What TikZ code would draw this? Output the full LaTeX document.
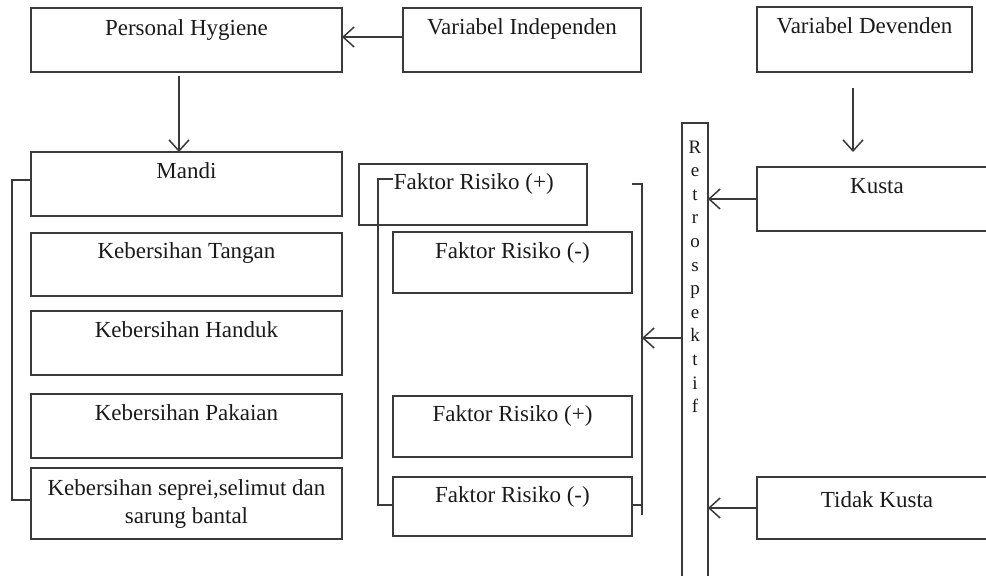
\documentclass[tikz,border=0pt]{standalone}
\usepackage{fontspec}
\setmainfont{Liberation Serif}
\usetikzlibrary{arrows.meta}
\definecolor{ln}{HTML}{3A3A3A}
\definecolor{tx}{HTML}{1A1A1A}
\begin{document}
\begin{tikzpicture}[x=1pt,y=-1pt,
  line width=1.7pt, draw=ln,
  box/.style={draw=ln, line width=1.7pt, rectangle, anchor=north west, inner sep=0pt, outer sep=0pt},
  openbox/.style={draw=none, rectangle, anchor=north west, inner sep=0pt, outer sep=0pt},
  txt/.style={anchor=base, inner sep=0pt, text=tx, font=\fontsize{23}{28}\selectfont, align=center},
  letter/.style={anchor=base, inner sep=0pt, text=tx, font=\fontsize{19}{20}\selectfont},
  arr/.style={draw=ln, -{Straight Barb[length=11pt,width=20pt,line width=1.5pt]}}]
\useasboundingbox (0,0) rectangle (986,576);
% top row
\node[box, minimum width=311pt, minimum height=64pt] (ph) at (31,8) {};
\node[txt] (phT) at ([yshift=-27pt]ph.north) {Personal Hygiene};
\node[box, minimum width=238pt, minimum height=64pt] (vi) at (403,8) {};
\node[txt] (viT) at ([yshift=-26pt]vi.north) {Variabel Independen};
\node[box, minimum width=215pt, minimum height=65pt] (vd) at (757,7) {};
\node[txt] (vdT) at ([yshift=-26pt]vd.north) {Variabel Devenden};
% left column
\node[box, minimum width=311pt, minimum height=64pt] (mandi) at (31,152) {};
\node[txt] (mandiT) at ([yshift=-26pt]mandi.north) {Mandi};
\node[box, minimum width=311pt, minimum height=63pt] (tangan) at (31,233) {};
\node[txt] (tanganT) at ([yshift=-25pt]tangan.north) {Kebersihan Tangan};
\node[box, minimum width=311pt, minimum height=64pt] (handuk) at (31,311) {};
\node[txt] (handukT) at ([yshift=-26pt]handuk.north) {Kebersihan Handuk};
\node[box, minimum width=311pt, minimum height=64pt] (pakaian) at (31,394) {};
\node[txt] (pakaianT) at ([yshift=-26pt]pakaian.north) {Kebersihan Pakaian};
\node[box, minimum width=311pt, minimum height=71pt] (seprei) at (31,468) {};
\node[txt] (sepreiT) at ([yshift=-55pt]seprei.north) {Kebersihan seprei,selimut dan\\sarung bantal};
% middle column
\node[box, minimum width=228pt, minimum height=61pt] (frpa) at (359,164) {};
\node[txt, anchor=base west] (frpaT) at (393,189) {Faktor Risiko (+)};
\node[box, minimum width=239pt, minimum height=61pt] (frma) at (393,232) {};
\node[txt] (frmaT) at ([yshift=-26pt]frma.north) {Faktor Risiko (-)};
\node[box, minimum width=239pt, minimum height=61pt] (frpb) at (393,396) {};
\node[txt] (frpbT) at ([yshift=-25pt]frpb.north) {Faktor Risiko (+)};
\node[box, minimum width=239pt, minimum height=59pt] (frmb) at (393,477) {};
\node[txt] (frmbT) at ([yshift=-25pt]frmb.north) {Faktor Risiko (-)};
% retrospektif
\node[openbox, minimum width=26pt, minimum height=460pt] (retro) at (682,123) {};
\draw (retro.south west) -- (retro.north west) -- (retro.north east) -- (retro.south east);
\foreach \c [count=\i] in {R,e,t,r,o,s,p,e,k,t,i,f}
  \node[letter] (r\i) at (695,{153+23.6*(\i-1)}) {\c};
% right column
\node[openbox, minimum width=240pt, minimum height=64pt] (kusta) at (757,167) {};
\draw (kusta.north east) -- (kusta.north west) -- (kusta.south west) -- (kusta.south east);
\node[txt] (kustaT) at (877,193) {Kusta};
\node[openbox, minimum width=240pt, minimum height=62pt] (tidak) at (757,477) {};
\draw (tidak.north east) -- (tidak.north west) -- (tidak.south west) -- (tidak.south east);
\node[txt] (tidakT) at (877,507) {Tidak Kusta};
% connectors
\draw[arr] ([yshift=-29pt]vi.north west) -- ([yshift=-29pt]ph.north east);
\draw[arr] ([xshift=-7.5pt,yshift=-4pt]ph.south) -- ([xshift=-7.5pt]mandi.north);
\coordinate (vdk) at ([xshift=-11.5pt,yshift=-16pt]vd.south);
\draw[arr, shorten >=15pt] (vdk) -- (vdk |- kusta.north);
\draw[arr] (kusta.west) -- (retro.east |- kusta.west);
\draw[arr] (tidak.west) -- (retro.east |- tidak.west);
% left bracket
\draw ([yshift=4pt]mandi.west) -- ++(-19,0) |- ([yshift=3.5pt]seprei.west);
% middle brackets
\coordinate (lbt) at (378,179);
\draw (frpaT.west |- lbt) -- (lbt) |- ([yshift=1.5pt]frmb.west);
\coordinate (rbt) at (642,184);
\coordinate (rbb) at (642,515);
\draw (frma.east |- rbt) -- (rbt) -- (rbb);
\draw ([yshift=1.5pt]frmb.east) -- ([yshift=1.5pt]frmb.east -| rbt);
\coordinate (ra) at (682,338);
\draw[arr] (ra) -- (rbt |- ra);
\end{tikzpicture}
\end{document}
